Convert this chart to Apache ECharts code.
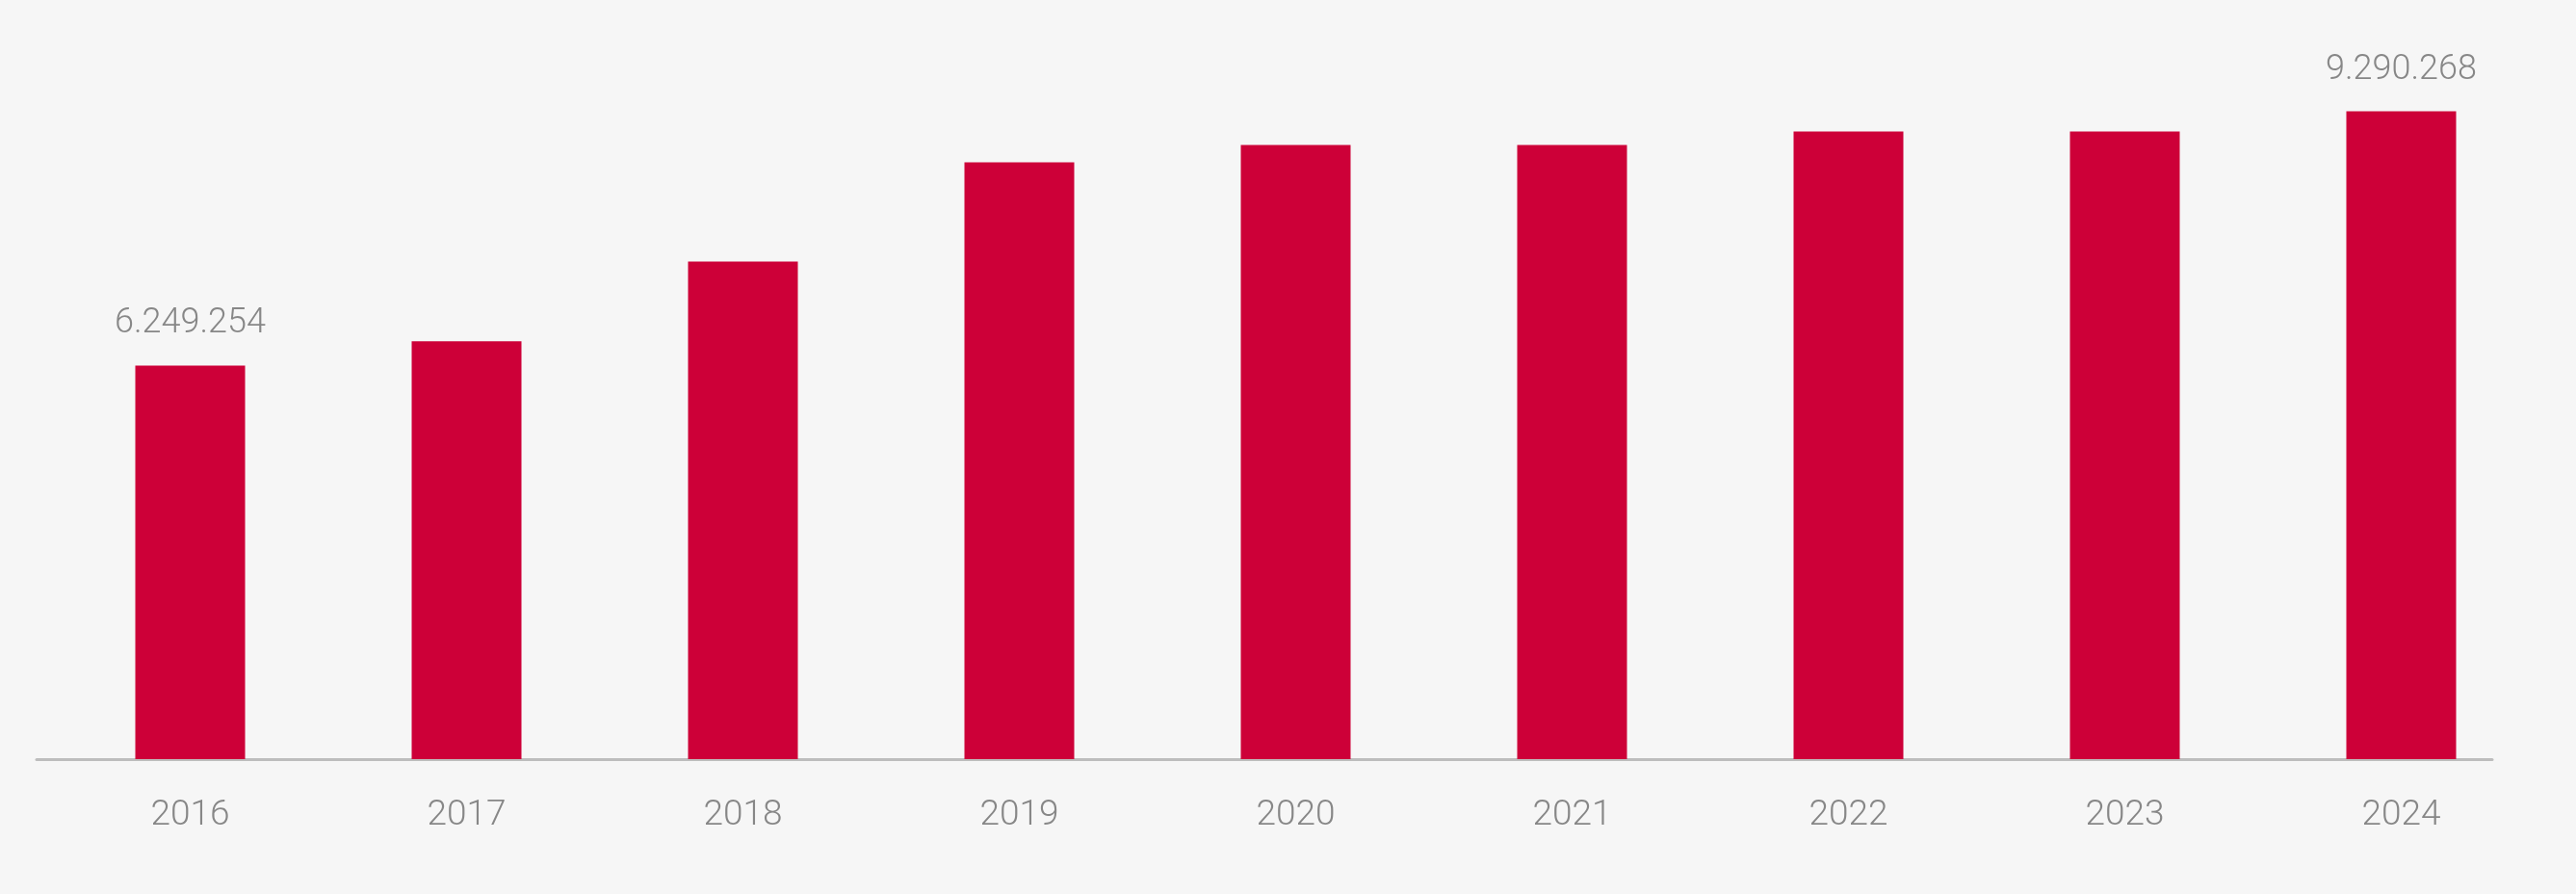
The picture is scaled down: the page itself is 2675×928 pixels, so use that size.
<!DOCTYPE html>
<html>
<head>
<meta charset="utf-8">
<script src="https://cdn.jsdelivr.net/npm/echarts@6/dist/echarts.min.js"></script>
<style>
  html, body { margin: 0; padding: 0; background: #f6f6f6; }
  #chart { width: 2675px; height: 928px; }
</style>
</head>
<body>
<div id="chart"></div>
<script>
// ---- data ----
const categories = ['2016', '2017', '2018', '2019', '2020', '2021', '2022', '2023', '2024'];
const visitors = [6249254, 6538000, 7494000, 8680000, 8887000, 8887000, 9049000, 9049000, 9290268];
const labeledYears = ['2016', '2024'];
const yMin = 1540000;
const yMax = 10000000;

// ---- helpers ----
const FONT = "'Liberation Sans Narrow', Roboto, sans-serif";
function fmt(v) {
  return String(Math.round(v)).replace(/\B(?=(\d{3})+(?!\d))/g, '.');
}

const seriesData = visitors.map((v, i) => ({
  value: v,
  label: { show: labeledYears.indexOf(categories[i]) !== -1 }
}));

const chart = echarts.init(document.getElementById('chart'), null, { renderer: 'canvas' });
chart.setOption({
  backgroundColor: '#f6f6f6',
  animation: false,
  grid: [
    { left: 54, right: 38, top: 54, bottom: 140 },
    { left: 38, right: 87, top: 54, bottom: 140 }
  ],
  xAxis: [
    {
      type: 'category',
      gridIndex: 0,
      data: categories,
      axisLine: { show: false },
      axisTick: { show: false },
      axisLabel: {
        color: '#878787',
        fontFamily: FONT,
        fontWeight: 300,
        fontSize: 37,
        margin: 40
      }
    },
    {
      type: 'value',
      gridIndex: 1,
      min: 0,
      max: 1,
      axisLine: { show: true, onZero: false, lineStyle: { color: '#bdbdbd', width: 3 } },
      axisTick: { show: false },
      axisLabel: { show: false },
      splitLine: { show: false }
    }
  ],
  yAxis: [
    { type: 'value', gridIndex: 0, min: yMin, max: yMax, show: false },
    { type: 'value', gridIndex: 1, min: 0, max: 1, show: false }
  ],
  series: [
    {
      type: 'bar',
      xAxisIndex: 0,
      yAxisIndex: 0,
      data: seriesData,
      barWidth: 114,
      z: 3,
      itemStyle: { color: '#cd0038' },
      label: {
        position: 'top',
        distance: 25,
        color: '#878787',
        fontFamily: FONT,
        fontWeight: 300,
        fontSize: 36,
        formatter: p => fmt(p.value)
      }
    }
  ]
});
</script>
</body>
</html>
